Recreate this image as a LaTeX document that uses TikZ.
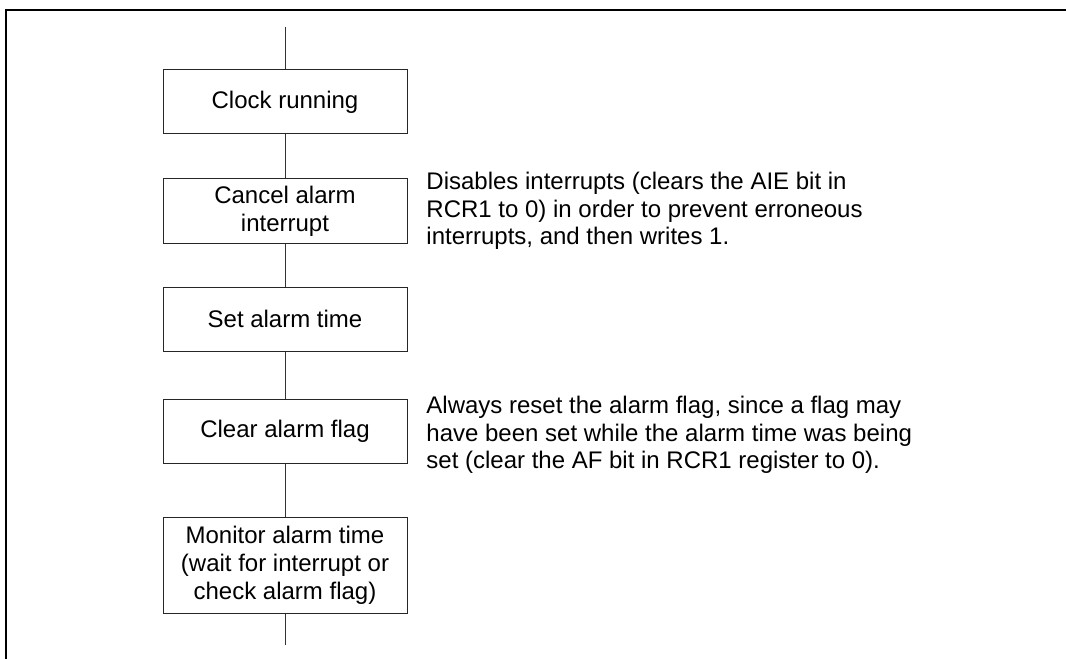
\documentclass[tikz,border=0pt]{standalone}
\usepackage{fontspec}
\setmainfont{Liberation Sans}
\usepackage{tikz}
\usetikzlibrary{positioning}

\begin{document}
\begin{tikzpicture}[
  x=0.75pt, y=-0.75pt,
  node distance=33pt,
  %% box styles
  stepbox/.style={
    rectangle, draw=black!85, line width=0.75pt,
    minimum width=183pt, minimum height=48pt,
    inner sep=2pt, align=center,
    font=\fontsize{18pt}{21pt}\selectfont},
  note/.style={
    inner sep=0pt, align=left,
    font=\fontsize{18pt}{20.6pt}\selectfont},
  flow/.style={draw=black!80, line width=0.75pt},
  frame/.style={draw=black, line width=1.6pt}
]
\useasboundingbox (0,0) rectangle (1066,659);

%% outer frame (top and left edge only)
\draw[frame] (6,659) -- (6,10) -- (1066,10);

%% ── flow chart ───────────────────────────────────────────────
\node[stepbox] (clock) at (285,102) {Clock running};
\node[stepbox, below=33pt of clock] (cancel) {Cancel alarm\\interrupt};
\node[stepbox, below=32.25pt of cancel] (setalarm) {Set alarm time};
\node[stepbox, below=35.25pt of setalarm] (clearflag) {Clear alarm flag};
\node[stepbox, below=39.75pt of clearflag, minimum height=72pt] (monitor)
  {Monitor alarm time\\(wait for interrupt or\\check alarm flag)};

%% loose ends of the flow line
\coordinate (entry) at (285,27);
\coordinate (exit)  at (285,645);

%% ── notes ───────────────────────────────────────────────────
\node[note, right=14pt of cancel] (cancelnote) {%
  Disables interrupts (clears the AIE bit in\\
  RCR1 to 0) in order to prevent erroneous\\
  interrupts, and then writes 1.};
\node[note, right=14pt of clearflag, yshift=-3pt] (clearnote) {%
  Always reset the alarm flag, since a flag may\\
  have been set while the alarm time was being\\
  set (clear the AF bit in RCR1 register to 0).};

%% ── connectors ──────────────────────────────────────────────
\draw[flow] (entry)     -- (clock);
\draw[flow] (clock)     -- (cancel);
\draw[flow] (cancel)    -- (setalarm);
\draw[flow] (setalarm)  -- (clearflag);
\draw[flow] (clearflag) -- (monitor);
\draw[flow] (monitor)   -- (exit);

\end{tikzpicture}
\end{document}
